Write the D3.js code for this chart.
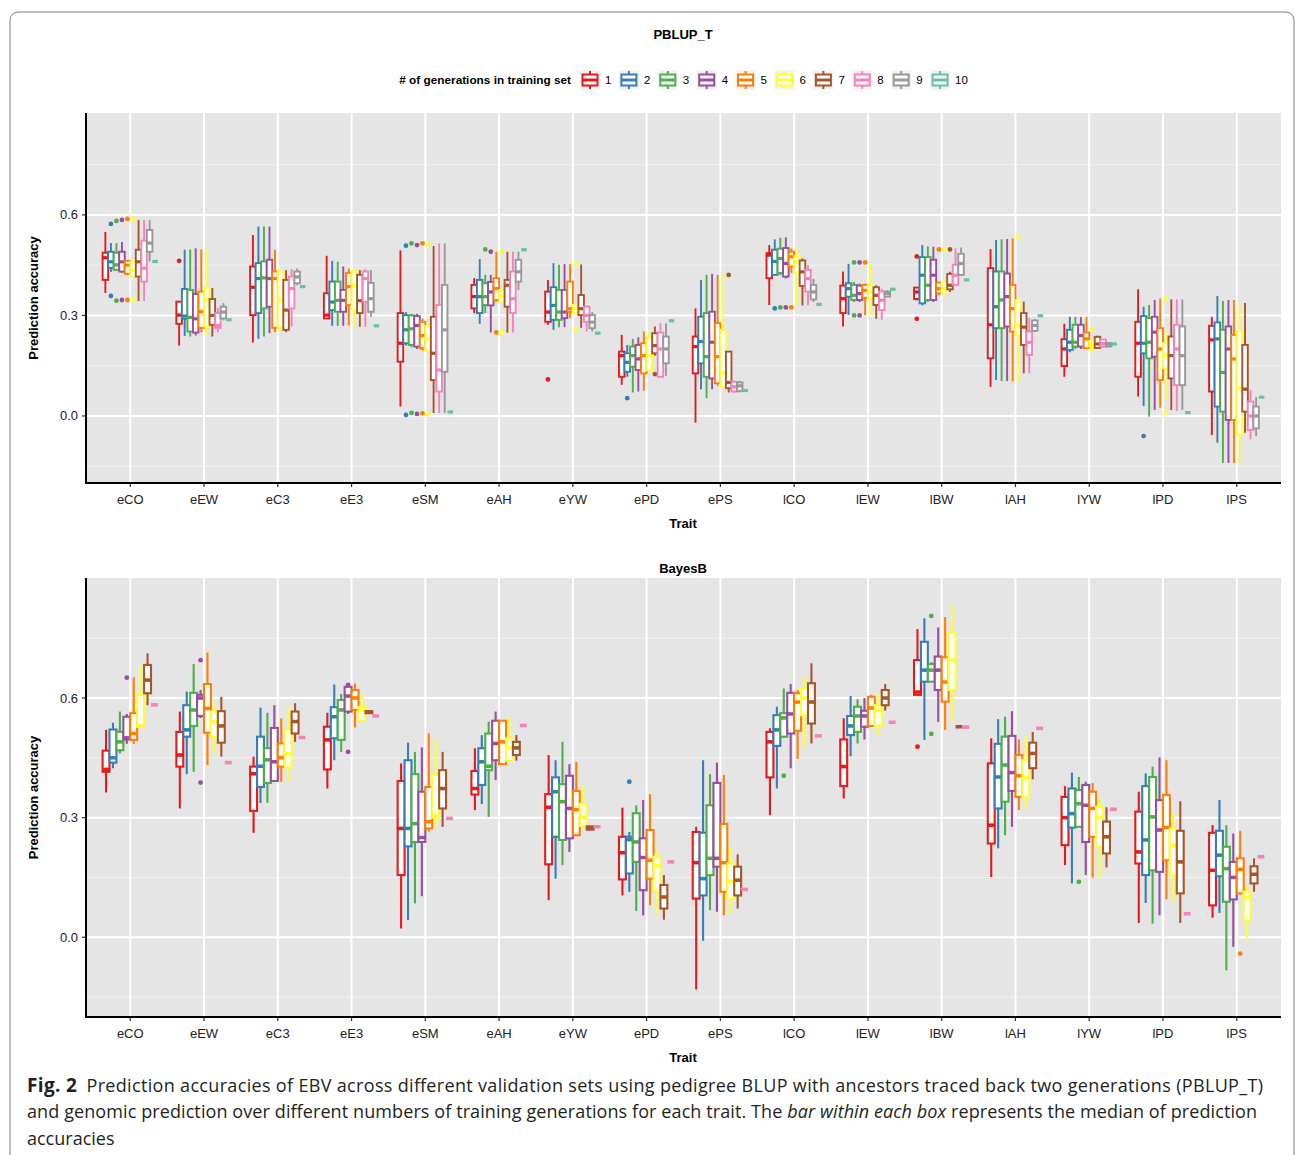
<!DOCTYPE html>
<html>
<head>
<meta charset="utf-8">
<script src="https://d3js.org/d3.v7.min.js"></script>
<style>
  body { margin: 0; background: #fff; }
  svg { display: block; font-family: 'Liberation Sans', Arial, sans-serif; }
  .caption { font-family: 'Open Sans', 'Noto Sans', sans-serif; font-size: 18px; fill: #231f20; }
</style>
</head>
<body>
<script>
// traits on the x axis
var traits = ["eCO","eEW","eC3","eE3","eSM","eAH","eYW","ePD","ePS","lCO","lEW","lBW","lAH","lYW","lPD","lPS"];
var genLabels = ["1","2","3","4","5","6","7","8","9","10"];
var genColors = ["#E41A1C","#377EB8","#4DAF4A","#984EA3","#FF7F00","#FFFF33","#A65628","#F781BF","#999999","#66C2A5"];
var yTicks = [0.0, 0.3, 0.6];

// PBLUP_T: per trait, per generation [lower whisker, q1, median, q3, upper whisker]
var pblupBoxes = [
  [[0.367,0.406,0.472,0.487,0.549],[0.43,0.442,0.46,0.49,0.516],[0.434,0.436,0.451,0.487,0.516],[0.427,0.431,0.46,0.49,0.519],[0.42,0.424,0.45,0.463,0.465],[0.416,0.416,0.436,0.461,0.463],[0.343,0.416,0.46,0.496,0.585],[0.343,0.401,0.441,0.523,0.585],[0.461,0.49,0.516,0.555,0.585],[0.461,0.461,0.461,0.461,0.461]],
  [[0.21,0.275,0.301,0.341,0.341],[0.239,0.29,0.298,0.379,0.496],[0.237,0.252,0.294,0.376,0.497],[0.24,0.249,0.29,0.364,0.5],[0.25,0.263,0.311,0.371,0.497],[0.24,0.267,0.346,0.382,0.497],[0.237,0.272,0.3,0.349,0.382],[0.25,0.263,0.27,0.307,0.322],[0.285,0.291,0.31,0.326,0.337],[0.287,0.287,0.287,0.287,0.287]],
  [[0.219,0.301,0.384,0.446,0.54],[0.23,0.307,0.41,0.456,0.565],[0.237,0.321,0.412,0.461,0.565],[0.247,0.326,0.41,0.466,0.565],[0.25,0.263,0.41,0.431,0.496],[0.25,0.263,0.346,0.431,0.438],[0.25,0.257,0.316,0.406,0.435],[0.267,0.321,0.38,0.416,0.438],[0.39,0.396,0.415,0.431,0.44],[0.386,0.386,0.386,0.386,0.386]],
  [[0.291,0.291,0.301,0.366,0.478],[0.269,0.316,0.34,0.401,0.463],[0.269,0.311,0.345,0.401,0.46],[0.269,0.311,0.345,0.376,0.446],[0.27,0.331,0.386,0.427,0.44],[0.267,0.316,0.39,0.431,0.44],[0.266,0.307,0.344,0.421,0.435],[0.266,0.341,0.41,0.431,0.438],[0.296,0.311,0.35,0.397,0.435],[0.269,0.269,0.269,0.269,0.269]],
  [[0.028,0.162,0.217,0.307,0.494],[0.21,0.217,0.257,0.301,0.31],[0.205,0.212,0.26,0.3,0.305],[0.2,0.207,0.27,0.298,0.305],[0.195,0.202,0.24,0.281,0.29],[0.19,0.197,0.23,0.269,0.275],[0.009,0.107,0.187,0.296,0.507],[0.009,0.073,0.137,0.331,0.515],[0.009,0.132,0.257,0.391,0.515],[0.012,0.012,0.012,0.012,0.012]],
  [[0.307,0.321,0.356,0.391,0.411],[0.275,0.307,0.356,0.406,0.468],[0.307,0.331,0.356,0.396,0.421],[0.249,0.33,0.37,0.4,0.421],[0.34,0.346,0.38,0.411,0.49],[0.335,0.341,0.36,0.376,0.38],[0.249,0.326,0.39,0.406,0.49],[0.249,0.307,0.35,0.431,0.49],[0.376,0.401,0.43,0.466,0.49],[0.496,0.496,0.496,0.496,0.496]],
  [[0.272,0.281,0.31,0.371,0.406],[0.257,0.287,0.33,0.384,0.456],[0.265,0.287,0.31,0.376,0.451],[0.265,0.292,0.31,0.376,0.453],[0.292,0.311,0.32,0.401,0.453],[0.3,0.307,0.32,0.331,0.335],[0.263,0.301,0.32,0.361,0.452],[0.252,0.281,0.3,0.326,0.33],[0.252,0.262,0.28,0.301,0.31],[0.247,0.247,0.247,0.247,0.247]],
  [[0.093,0.117,0.18,0.192,0.242],[0.117,0.132,0.16,0.187,0.212],[0.07,0.147,0.18,0.207,0.23],[0.073,0.137,0.17,0.212,0.235],[0.075,0.127,0.18,0.217,0.252],[0.13,0.137,0.18,0.233,0.255],[0.18,0.187,0.21,0.247,0.267],[0.117,0.117,0.2,0.249,0.277],[0.12,0.157,0.2,0.237,0.277],[0.284,0.284,0.284,0.284,0.284]],
  [[-0.02,0.127,0.207,0.237,0.321],[0.08,0.157,0.222,0.296,0.406],[0.053,0.117,0.177,0.307,0.421],[0.08,0.112,0.22,0.311,0.424],[0.09,0.098,0.177,0.277,0.421],[0.085,0.087,0.128,0.257,0.418],[0.07,0.083,0.1,0.192,0.192],[0.07,0.073,0.087,0.102,0.105],[0.07,0.075,0.09,0.1,0.105],[0.076,0.076,0.076,0.076,0.076]],
  [[0.331,0.411,0.48,0.486,0.51],[0.42,0.421,0.461,0.496,0.527],[0.42,0.427,0.47,0.499,0.532],[0.41,0.416,0.455,0.501,0.533],[0.427,0.446,0.475,0.49,0.5],[0.33,0.426,0.46,0.476,0.5],[0.33,0.388,0.43,0.464,0.47],[0.33,0.371,0.41,0.436,0.45],[0.34,0.348,0.37,0.391,0.409],[0.333,0.333,0.333,0.333,0.333]],
  [[0.267,0.307,0.35,0.389,0.431],[0.301,0.356,0.38,0.396,0.454],[0.34,0.346,0.36,0.391,0.4],[0.34,0.346,0.365,0.389,0.395],[0.3,0.353,0.375,0.391,0.395],[0.3,0.35,0.37,0.39,0.456],[0.29,0.331,0.36,0.384,0.39],[0.287,0.316,0.345,0.371,0.38],[0.355,0.356,0.365,0.371,0.375],[0.378,0.378,0.378,0.378,0.378]],
  [[0.345,0.349,0.37,0.383,0.385],[0.33,0.336,0.42,0.474,0.51],[0.34,0.346,0.39,0.474,0.506],[0.34,0.346,0.42,0.466,0.505],[0.36,0.366,0.38,0.398,0.4],[0.36,0.366,0.38,0.4,0.4],[0.37,0.378,0.39,0.424,0.43],[0.39,0.391,0.42,0.451,0.5],[0.42,0.421,0.455,0.484,0.503],[0.406,0.406,0.406,0.406,0.406]],
  [[0.087,0.172,0.272,0.441,0.498],[0.107,0.262,0.326,0.431,0.525],[0.104,0.262,0.346,0.431,0.527],[0.104,0.267,0.356,0.425,0.528],[0.104,0.252,0.32,0.391,0.53],[0.104,0.242,0.27,0.346,0.35],[0.127,0.212,0.265,0.307,0.341],[0.127,0.182,0.22,0.252,0.292],[0.25,0.254,0.27,0.285,0.29],[0.299,0.299,0.299,0.299,0.299]],
  [[0.117,0.149,0.2,0.229,0.275],[0.19,0.197,0.22,0.257,0.296],[0.2,0.207,0.22,0.272,0.296],[0.2,0.207,0.24,0.272,0.295],[0.2,0.202,0.23,0.249,0.295],[0.205,0.207,0.215,0.224,0.228],[0.2,0.203,0.215,0.236,0.24],[0.205,0.207,0.216,0.228,0.23],[0.207,0.207,0.212,0.218,0.218],[0.215,0.215,0.215,0.215,0.215]],
  [[0.058,0.117,0.217,0.281,0.378],[0.03,0.187,0.217,0.298,0.326],[-0.002,0.172,0.22,0.292,0.331],[0.018,0.177,0.25,0.296,0.346],[0.025,0.107,0.2,0.262,0.35],[0.05,0.142,0.18,0.217,0.25],[0.018,0.112,0.18,0.237,0.348],[0.015,0.092,0.2,0.272,0.348],[0.018,0.092,0.18,0.267,0.348],[0.01,0.01,0.01,0.01,0.01]],
  [[-0.057,0.073,0.227,0.269,0.296],[-0.08,0.028,0.23,0.279,0.358],[-0.14,0.013,0.13,0.257,0.343],[-0.14,-0.012,0.2,0.267,0.346],[-0.14,-0.012,0.17,0.242,0.346],[-0.14,-0.057,0.083,0.252,0.33],[-0.05,0.013,0.08,0.212,0.337],[-0.07,-0.042,0.0,0.043,0.078],[-0.06,-0.037,0.0,0.028,0.057],[0.056,0.056,0.056,0.056,0.056]]
];
// PBLUP_T outliers: [trait index, generation index, value]
var pblupOutliers = [
  [0,1,0.573],[0,1,0.358],[0,2,0.582],[0,2,0.344],[0,3,0.585],[0,3,0.346],[0,4,0.588],[0,4,0.346],[0,5,0.588],[0,5,0.346],
  [1,0,0.463],
  [4,1,0.508],[4,1,0.003],[4,2,0.515],[4,2,0.009],[4,3,0.51],[4,3,0.006],[4,4,0.515],[4,4,0.008],[4,5,0.512],[4,5,0.006],
  [5,2,0.497],[5,3,0.49],[5,4,0.249],[5,5,0.49],[5,5,0.249],
  [6,0,0.109],[6,5,0.453],[6,5,0.256],
  [7,1,0.053],[7,6,0.125],
  [8,6,0.421],
  [9,1,0.321],[9,2,0.324],[9,3,0.324],[9,4,0.324],
  [10,2,0.458],[10,2,0.3],[10,3,0.458],[10,3,0.3],[10,4,0.458],
  [11,0,0.476],[11,0,0.29],[11,4,0.497],[11,5,0.497],[11,6,0.497],
  [12,5,0.535],
  [13,5,0.259],[13,5,0.2],
  [14,1,-0.06],[14,5,0.35],[14,5,0.011]
];

// BayesB: per trait, per generation [lower whisker, q1, median, q3, upper whisker]
var bayesBoxes = [
  [[0.363,0.415,0.421,0.468,0.52],[0.424,0.438,0.45,0.521,0.538],[0.461,0.469,0.49,0.515,0.566],[0.485,0.496,0.5,0.553,0.56],[0.485,0.495,0.511,0.562,0.652],[0.528,0.528,0.53,0.608,0.683],[0.582,0.612,0.645,0.683,0.712],[0.583,0.583,0.583,0.583,0.583]],
  [[0.323,0.428,0.457,0.515,0.566],[0.409,0.503,0.52,0.582,0.616],[0.415,0.53,0.57,0.613,0.685],[0.55,0.555,0.6,0.608,0.62],[0.432,0.513,0.574,0.635,0.714],[0.463,0.503,0.54,0.566,0.591],[0.453,0.488,0.53,0.567,0.603],[0.438,0.438,0.438,0.438,0.438]],
  [[0.262,0.317,0.41,0.428,0.453],[0.337,0.377,0.429,0.503,0.576],[0.337,0.387,0.445,0.474,0.563],[0.39,0.392,0.44,0.525,0.582],[0.39,0.428,0.45,0.486,0.549],[0.39,0.426,0.46,0.52,0.578],[0.49,0.511,0.541,0.566,0.587],[0.501,0.501,0.501,0.501,0.501]],
  [[0.373,0.421,0.495,0.528,0.563],[0.444,0.499,0.553,0.577,0.634],[0.465,0.495,0.57,0.595,0.61],[0.56,0.566,0.605,0.628,0.628],[0.526,0.57,0.6,0.62,0.636],[0.543,0.543,0.57,0.578,0.608],[0.56,0.562,0.565,0.567,0.567],[0.555,0.555,0.555,0.555,0.555]],
  [[0.022,0.156,0.273,0.392,0.436],[0.043,0.228,0.273,0.444,0.488],[0.085,0.239,0.285,0.409,0.465],[0.103,0.239,0.25,0.365,0.476],[0.265,0.273,0.29,0.377,0.511],[0.277,0.3,0.305,0.407,0.495],[0.277,0.323,0.373,0.419,0.465],[0.298,0.298,0.298,0.298,0.298]],
  [[0.319,0.358,0.373,0.417,0.474],[0.334,0.382,0.44,0.474,0.507],[0.302,0.419,0.429,0.511,0.541],[0.394,0.444,0.486,0.543,0.566],[0.434,0.434,0.49,0.543,0.545],[0.443,0.443,0.475,0.499,0.552],[0.443,0.457,0.475,0.49,0.507],[0.531,0.531,0.531,0.531,0.531]],
  [[0.093,0.183,0.326,0.359,0.457],[0.147,0.252,0.365,0.401,0.444],[0.181,0.244,0.34,0.384,0.49],[0.214,0.248,0.323,0.405,0.434],[0.256,0.256,0.32,0.367,0.44],[0.279,0.279,0.3,0.334,0.382],[0.27,0.27,0.273,0.278,0.278],[0.277,0.277,0.277,0.277,0.277]],
  [[0.105,0.145,0.212,0.252,0.325],[0.114,0.16,0.245,0.252,0.264],[0.066,0.189,0.239,0.311,0.331],[0.055,0.118,0.2,0.248,0.344],[0.08,0.147,0.193,0.269,0.359],[0.061,0.118,0.18,0.202,0.218],[0.044,0.072,0.101,0.131,0.156],[0.189,0.189,0.189,0.189,0.189]],
  [[-0.131,0.097,0.187,0.264,0.277],[-0.009,0.105,0.147,0.262,0.444],[0.068,0.156,0.198,0.331,0.409],[0.064,0.177,0.198,0.387,0.438],[0.055,0.114,0.187,0.284,0.407],[0.059,0.097,0.14,0.185,0.227],[0.072,0.105,0.143,0.177,0.208],[0.12,0.12,0.12,0.12,0.12]],
  [[0.306,0.401,0.49,0.515,0.524],[0.373,0.48,0.52,0.557,0.578],[0.5,0.503,0.55,0.562,0.624],[0.424,0.511,0.56,0.613,0.635],[0.447,0.518,0.59,0.612,0.62],[0.474,0.557,0.6,0.624,0.655],[0.486,0.536,0.59,0.637,0.687],[0.505,0.505,0.505,0.505,0.505]],
  [[0.348,0.379,0.428,0.496,0.549],[0.454,0.507,0.53,0.555,0.605],[0.486,0.515,0.555,0.578,0.597],[0.496,0.528,0.555,0.568,0.6],[0.53,0.53,0.575,0.603,0.608],[0.507,0.53,0.57,0.582,0.612],[0.568,0.582,0.6,0.62,0.635],[0.539,0.539,0.539,0.539,0.539]],
  [[0.608,0.608,0.615,0.695,0.773],[0.495,0.641,0.67,0.741,0.8],[0.64,0.641,0.67,0.685,0.69],[0.54,0.62,0.67,0.704,0.777],[0.52,0.591,0.64,0.702,0.803],[0.54,0.62,0.695,0.764,0.834],[0.528,0.528,0.528,0.528,0.528],[0.527,0.527,0.527,0.527,0.527]],
  [[0.151,0.235,0.281,0.436,0.499],[0.223,0.323,0.402,0.485,0.547],[0.256,0.34,0.432,0.503,0.553],[0.277,0.367,0.413,0.505,0.567],[0.319,0.352,0.405,0.457,0.496],[0.323,0.352,0.4,0.444,0.505],[0.396,0.424,0.461,0.488,0.515],[0.524,0.524,0.524,0.524,0.524]],
  [[0.181,0.231,0.3,0.352,0.379],[0.135,0.275,0.31,0.373,0.413],[0.277,0.277,0.335,0.369,0.402],[0.156,0.239,0.331,0.382,0.39],[0.15,0.252,0.323,0.365,0.387],[0.15,0.227,0.3,0.327,0.348],[0.175,0.21,0.252,0.29,0.326],[0.321,0.321,0.321,0.321,0.321]],
  [[0.036,0.185,0.214,0.315,0.365],[0.086,0.156,0.244,0.379,0.411],[0.034,0.168,0.302,0.402,0.428],[0.055,0.164,0.269,0.344,0.451],[0.095,0.193,0.275,0.357,0.444],[0.089,0.156,0.23,0.273,0.311],[0.036,0.11,0.189,0.267,0.341],[0.059,0.059,0.059,0.059,0.059]],
  [[0.049,0.08,0.168,0.262,0.281],[0.061,0.153,0.206,0.267,0.344],[-0.083,0.089,0.172,0.227,0.281],[-0.024,0.095,0.15,0.189,0.26],[0.11,0.11,0.17,0.198,0.267],[-0.006,0.041,0.1,0.114,0.131],[0.114,0.135,0.158,0.178,0.198],[0.202,0.202,0.202,0.202,0.202]]
];
var bayesOutliers = [
  [0,3,0.651],
  [1,3,0.695],[1,3,0.388],
  [3,3,0.633],[3,3,0.465],
  [7,1,0.39],
  [9,2,0.405],
  [11,0,0.478],[11,2,0.806],[11,2,0.51],
  [13,2,0.139],
  [15,4,-0.041]
];

var W = 1295, H = 1155;
var svg = d3.select("body").append("svg").attr("width", W).attr("height", H);

// Rahmen der Abbildung
svg.append("path")
  .attr("d", "M10,1160 V20 A8,8 0 0 1 18,12 H1286 A8,8 0 0 1 1294,20 V1160")
  .attr("fill", "none").attr("stroke", "#808080").attr("stroke-width", 1);

var plotLeft = 86, plotRight = 1281;

var x = d3.scalePoint().domain(traits).range([plotLeft, plotRight]).padding(0.6);

function drawPanel(cfg) {
  var y = d3.scaleLinear().domain([-0.2, cfg.yMax]).range([cfg.bottom, cfg.top]);
  var g = svg.append("g");
  var nGen = cfg.boxes[0].length;
  var slot = x.step() * 0.75 / nGen;

  // panel background
  g.append("rect").attr("x", plotLeft).attr("y", cfg.top)
    .attr("width", plotRight - plotLeft).attr("height", cfg.bottom - cfg.top)
    .attr("fill", "#E5E5E5");

  // minor + major grid
  [-0.15, 0.15, 0.45, 0.75].forEach(function (v) {
    g.append("line").attr("x1", plotLeft).attr("x2", plotRight)
      .attr("y1", y(v)).attr("y2", y(v)).attr("stroke", "#F2F2F2").attr("stroke-width", 1);
  });
  yTicks.forEach(function (v) {
    g.append("line").attr("x1", plotLeft).attr("x2", plotRight)
      .attr("y1", y(v)).attr("y2", y(v)).attr("stroke", "#fff").attr("stroke-width", 2);
  });
  traits.forEach(function (t) {
    g.append("line").attr("x1", x(t)).attr("x2", x(t))
      .attr("y1", cfg.top).attr("y2", cfg.bottom).attr("stroke", "#fff").attr("stroke-width", 2);
  });

  // boxplots
  var sw = cfg.strokeW;
  traits.forEach(function (t, ti) {
    var cx0 = x(t) - x.step() * 0.375 + slot / 2;
    cfg.boxes[ti].forEach(function (b, gi) {
      var cx = cx0 + gi * slot;
      var col = genColors[gi];
      var bg = g.append("g");
      cfg.outliers.filter(function (o) { return o[0] === ti && o[1] === gi; }).forEach(function (o) {
        bg.append("circle").attr("cx", cx).attr("cy", y(o[2])).attr("r", 2.4).attr("fill", col);
      });
      bg.append("line").attr("x1", cx).attr("x2", cx).attr("y1", y(b[4])).attr("y2", y(b[3]))
        .attr("stroke", col).attr("stroke-width", sw);
      bg.append("line").attr("x1", cx).attr("x2", cx).attr("y1", y(b[1])).attr("y2", y(b[0]))
        .attr("stroke", col).attr("stroke-width", sw);
      bg.append("rect").attr("x", cx - slot / 2).attr("width", slot)
        .attr("y", y(b[3])).attr("height", Math.max(0, y(b[1]) - y(b[3])))
        .attr("fill", "#fff").attr("stroke", col).attr("stroke-width", sw);
      bg.append("line").attr("x1", cx - slot / 2).attr("x2", cx + slot / 2)
        .attr("y1", y(b[2])).attr("y2", y(b[2]))
        .attr("stroke", col).attr("stroke-width", sw * 1.7);
    });
  });

  // axes
  g.append("line").attr("x1", plotLeft).attr("x2", plotLeft).attr("y1", cfg.top).attr("y2", cfg.bottom + 1)
    .attr("stroke", "#000").attr("stroke-width", 2);
  g.append("line").attr("x1", plotLeft - 1).attr("x2", plotRight).attr("y1", cfg.bottom).attr("y2", cfg.bottom)
    .attr("stroke", "#000").attr("stroke-width", 2);

  yTicks.forEach(function (v) {
    g.append("line").attr("x1", plotLeft - 4).attr("x2", plotLeft - 1)
      .attr("y1", y(v)).attr("y2", y(v)).attr("stroke", "#333").attr("stroke-width", 1.2);
    g.append("text").attr("x", plotLeft - 8).attr("y", y(v) + 4.5)
      .attr("text-anchor", "end").attr("font-size", 13).attr("fill", "#222")
      .text(d3.format(".1f")(v));
  });
  traits.forEach(function (t) {
    g.append("line").attr("x1", x(t)).attr("x2", x(t))
      .attr("y1", cfg.bottom + 1).attr("y2", cfg.bottom + 4).attr("stroke", "#333").attr("stroke-width", 1.2);
    g.append("text").attr("x", x(t)).attr("y", cfg.bottom + 21)
      .attr("text-anchor", "middle").attr("font-size", 13).attr("fill", "#222").text(t);
  });

  g.append("text").attr("x", 683).attr("y", cfg.bottom + 45)
    .attr("text-anchor", "middle").attr("font-size", 13).attr("font-weight", "bold").text("Trait");
  g.append("text")
    .attr("transform", "translate(38," + ((cfg.top + cfg.bottom) / 2) + ") rotate(-90)")
    .attr("text-anchor", "middle").attr("font-size", 13).attr("font-weight", "bold")
    .text("Prediction accuracy");
  g.append("text").attr("x", 683).attr("y", cfg.titleY)
    .attr("text-anchor", "middle").attr("font-size", 13).attr("font-weight", "bold").text(cfg.title);
}

drawPanel({ title: "PBLUP_T", titleY: 39, top: 113, bottom: 483, yMax: 0.904, strokeW: 1.9,
  boxes: pblupBoxes, outliers: pblupOutliers });
drawPanel({ title: "BayesB", titleY: 573, top: 578, bottom: 1017, yMax: 0.901, strokeW: 2.1,
  boxes: bayesBoxes, outliers: bayesOutliers });

// Legende
var legend = svg.append("g").attr("transform", "translate(0,80)");
legend.append("text").attr("x", 571).attr("y", 4).attr("text-anchor", "end")
  .attr("font-size", 11.8).attr("font-weight", "bold").text("# of generations in training set");
genLabels.forEach(function (lab, i) {
  var kx = 580 + i * 38.9;
  var k = legend.append("g").attr("transform", "translate(" + kx + ",0)");
  k.append("rect").attr("x", 0).attr("y", -9.5).attr("width", 20).attr("height", 19).attr("fill", "#F2F2F2");
  k.append("line").attr("x1", 10).attr("x2", 10).attr("y1", -9).attr("y2", 9)
    .attr("stroke", genColors[i]).attr("stroke-width", 2);
  k.append("rect").attr("x", 2.5).attr("y", -5.5).attr("width", 15).attr("height", 11)
    .attr("fill", "#fff").attr("stroke", genColors[i]).attr("stroke-width", 2);
  k.append("line").attr("x1", 2.5).attr("x2", 17.5).attr("y1", 0).attr("y2", 0)
    .attr("stroke", genColors[i]).attr("stroke-width", 3);
  k.append("text").attr("x", 25).attr("y", 4).attr("font-size", 11.5).text(lab);
});

// Bildunterschrift
var cap = svg.append("g").attr("class", "caption");
var l1 = cap.append("text").attr("x", 27).attr("y", 1092).attr("textLength", 1236).attr("lengthAdjust", "spacing");
l1.append("tspan").attr("font-weight", "bold").attr("font-size", 19).text("Fig. 2");
l1.append("tspan").text("\u2002Prediction accuracies of EBV across different validation sets using pedigree BLUP with ancestors traced back two generations (PBLUP_T)");
var l2 = cap.append("text").attr("x", 27).attr("y", 1118).attr("textLength", 1230).attr("lengthAdjust", "spacing");
l2.append("tspan").text("and genomic prediction over different numbers of training generations for each trait. The ");
l2.append("tspan").attr("font-style", "italic").text("bar within each box");
l2.append("tspan").text(" represents the median of prediction");
cap.append("text").attr("x", 27).attr("y", 1145).text("accuracies");
</script>
</body>
</html>
